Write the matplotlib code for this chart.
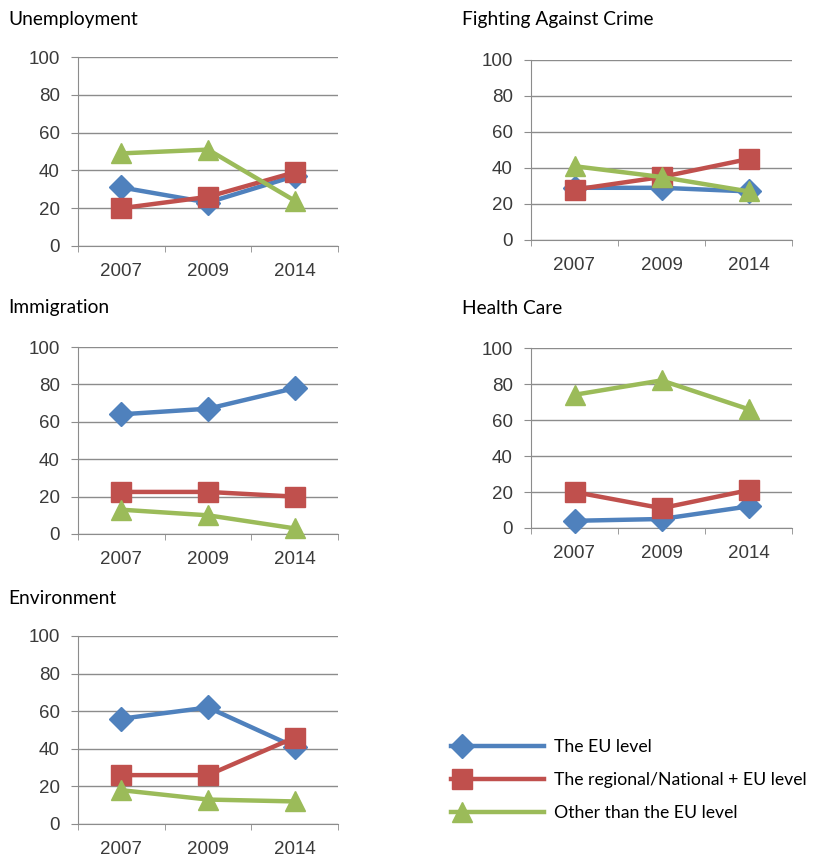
import matplotlib.pyplot as plt
from matplotlib.legend_handler import HandlerLine2DCompound

plt.rcParams['font.family'] = ['Lato', 'DejaVu Sans']

years = ['2007', '2009', '2014']
series_names = ['The EU level', 'The regional/National + EU level', 'Other than the EU level']

unemployment_eu = [31, 23, 37]
unemployment_nat = [20, 26, 39]
unemployment_other = [49, 51, 24]

crime_eu = [29, 29, 27]
crime_nat = [28, 35, 45]
crime_other = [41, 35, 27]

immigration_eu = [64, 67, 78]
immigration_nat = [22.5, 22.5, 20]
immigration_other = [13, 10, 3]

health_eu = [4, 5, 12]
health_nat = [20, 11, 21]
health_other = [74, 82, 66]

environment_eu = [56, 62, 41]
environment_nat = [26, 26, 46]
environment_other = [18, 13, 12]

blue = '#4F81BD'
red = '#C0504D'
green = '#9BBB59'
grid_gray = '#8C8C8C'
tick_font = ['Liberation Sans', 'DejaVu Sans']

W, H = 814, 857
fig = plt.figure(figsize=(W / 100, H / 100), dpi=100)


def px_axes(x0, y0, x1, y1):
    # pixel box (top-left origin) -> figure fraction
    return fig.add_axes([x0 / W, 1 - y1 / H, (x1 - x0) / W, (y1 - y0) / H])


panels = [
    ('Unemployment', (78, 57, 338, 246), (8, 19), unemployment_eu, unemployment_nat, unemployment_other),
    ('Fighting Against Crime', (531, 60, 792, 240), (462, 19), crime_eu, crime_nat, crime_other),
    ('Immigration', (78, 347, 338, 534), (8, 308), immigration_eu, immigration_nat, immigration_other),
    ('Health Care', (531, 348, 792, 528), (462, 308), health_eu, health_nat, health_other),
    ('Environment', (78, 636, 338, 824), (8, 598), environment_eu, environment_nat, environment_other),
]

lines = []
for title, box, tpos, eu, nat, other in panels:
    ax = px_axes(*box)
    x = range(len(years))
    l1, = ax.plot(x, eu, color=blue, lw=3.2, marker='D', ms=12, zorder=3)
    l2, = ax.plot(x, nat, color=red, lw=3.2, marker='s', ms=14, zorder=4)
    l3, = ax.plot(x, other, color=green, lw=3.2, marker='^', ms=15, zorder=5)
    lines = [l1, l2, l3]

    ax.set_xlim(-0.5, 2.5)
    ax.set_ylim(0, 100)
    ax.set_yticks(range(0, 101, 20))
    ax.set_xticks(list(x))
    ax.set_xticklabels(years)
    ax.set_xticks([-0.5, 0.5, 1.5, 2.5], minor=True)
    ax.grid(axis='y', color=grid_gray, lw=1)
    ax.set_axisbelow(True)
    for s in ['top', 'right']:
        ax.spines[s].set_visible(False)
    ax.spines['left'].set_color(grid_gray)
    ax.spines['bottom'].set_color(grid_gray)
    ax.tick_params(axis='y', length=5, color=grid_gray, labelsize=13.5, labelcolor='#3A3A3A', pad=8)
    ax.tick_params(axis='x', which='major', length=0, labelsize=13.5, labelcolor='#3A3A3A', pad=12)
    ax.tick_params(axis='x', which='minor', length=4, color=grid_gray)
    for lab in ax.get_xticklabels() + ax.get_yticklabels():
        lab.set_family(tick_font)
    for ln in lines:
        ln.set_clip_on(False)

    fig.text(tpos[0] / W, 1 - tpos[1] / H, title, fontsize=13.8, va='center', ha='left')


class LeftMarker(HandlerLine2DCompound):
    def get_xdata(self, legend, xdescent, ydescent, width, height, fontsize):
        xdata, _ = super().get_xdata(legend, xdescent, ydescent, width, height, fontsize)
        return xdata, [xdata[0] + 8]


fig.legend(lines, series_names, loc='center left',
           bbox_to_anchor=(435 / W, 1 - 780 / H), frameon=False, fontsize=12.7,
           handlelength=5.3, handletextpad=0.55, labelspacing=0.95, numpoints=1,
           handler_map={l: LeftMarker() for l in lines})

fig.savefig('out.png', dpi=100)
